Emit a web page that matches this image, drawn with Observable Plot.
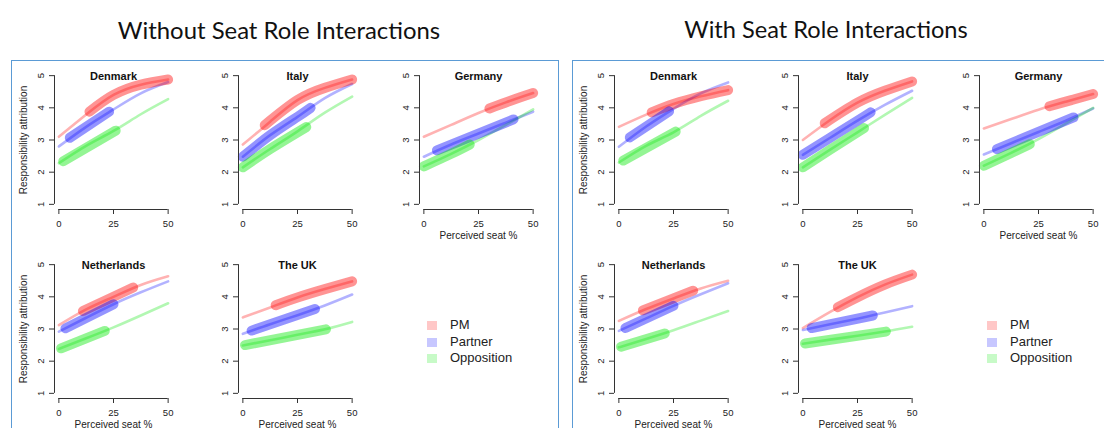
<!DOCTYPE html>
<html><head><meta charset="utf-8">
<script src="https://cdn.jsdelivr.net/npm/d3@7"></script>
<script src="https://cdn.jsdelivr.net/npm/@observablehq/plot@0.6"></script>
<style>
html,body{margin:0;padding:0;width:1104px;height:428px;overflow:hidden;background:#fff;}
#root{position:relative;width:1104px;height:428px;overflow:hidden;}
.box{position:absolute;border:1.5px solid #5b9bd5;box-sizing:border-box;}
.title{position:absolute;font-family:Lato,"Open Sans",sans-serif;color:#111;white-space:nowrap;transform:translate(-50%,-50%);}
.panel{position:absolute;}
.legend{position:absolute;font-family:"Liberation Sans",Arial,sans-serif;font-size:13px;color:#222;}
.legend .row{position:absolute;white-space:nowrap;height:16px;line-height:16px;}
.legend .sw{position:absolute;left:0;top:4px;width:10px;height:9px;}
.legend .lb{position:absolute;left:23px;top:0;}
</style></head><body><div id="root"></div><script>
const models = ["Without Seat Role Interactions", "With Seat Role Interactions"];
const countries = ["Denmark", "Italy", "Germany", "Netherlands", "The UK"];
const roles = ["PM", "Partner", "Opposition"];
const roleColors = ["#ff0000", "#0000ff", "#00e600"];
const seatTicks = [0, 25, 50];
const attrTicks = [1, 2, 3, 4, 5];
const curveSeats = [0, 12.5, 25, 37.5, 50];

// thin curves: attribution at curveSeats, one row per country
const withoutPM = [[3.10,3.79,4.40,4.72,4.88],[2.86,3.57,4.24,4.62,4.88],[3.10,3.47,3.84,4.17,4.46],[3.12,3.61,4.00,4.37,4.64],[3.36,3.67,3.98,4.24,4.48]];
const withoutPartner = [[2.80,3.41,3.95,4.45,4.80],[2.48,3.15,3.72,4.30,4.74],[2.48,2.86,3.20,3.54,3.88],[2.92,3.35,3.77,4.14,4.48],[2.85,3.15,3.43,3.73,4.07]];
const withoutOpposition = [[2.28,2.82,3.28,3.80,4.27],[2.15,2.72,3.27,3.85,4.35],[2.18,2.57,3.00,3.47,3.95],[2.38,2.71,3.05,3.42,3.80],[2.49,2.65,2.82,2.99,3.22]];
const withPM = [[3.41,3.79,4.12,4.36,4.55],[3.00,3.62,4.16,4.53,4.82],[3.36,3.65,3.94,4.19,4.43],[3.25,3.62,3.95,4.26,4.50],[3.03,3.53,3.99,4.38,4.69]];
const withPartner = [[2.79,3.42,3.97,4.45,4.79],[2.54,3.07,3.60,4.09,4.53],[2.55,2.90,3.25,3.60,3.98],[2.94,3.33,3.72,4.08,4.42],[2.97,3.15,3.32,3.51,3.71]];
const withOpposition = [[2.30,2.82,3.24,3.75,4.22],[2.15,2.70,3.24,3.78,4.31],[2.20,2.60,3.03,3.51,4.00],[2.43,2.69,2.96,3.26,3.56],[2.54,2.67,2.79,2.92,3.07]];

// thick segments (observed seat range): [seat, attribution] points per country
const withoutPMRange = [[[14,3.88],[25,4.40],[37.5,4.72],[50,4.88]],[[10,3.46],[25,4.24],[37.5,4.62],[50,4.88]],[[30,3.98],[40,4.23],[50,4.46]],[[11,3.56],[25,4.00],[34,4.29]],[[15,3.74],[25,3.98],[37.5,4.24],[50,4.48]]];
const withoutPartnerRange = [[[5,3.07],[23,3.88]],[[0,2.48],[12.5,3.15],[25,3.72],[31,4.00]],[[6,2.68],[41,3.64]],[[3,3.02],[25,3.77]],[[4,2.95],[33,3.62]]];
const withoutOppositionRange = [[[2,2.34],[26,3.29]],[[0,2.15],[12.5,2.72],[29,3.40]],[[0,2.18],[12.5,2.57],[21,2.86]],[[1,2.40],[21,2.94]],[[1,2.50],[38,2.99]]];
const withPMRange = [[[15,3.86],[25,4.12],[37.5,4.36],[50,4.55]],[[10,3.52],[25,4.16],[37.5,4.53],[50,4.82]],[[30,4.05],[40,4.24],[50,4.43]],[[11,3.58],[25,3.95],[34,4.19]],[[16,3.68],[25,3.99],[37.5,4.38],[50,4.69]]];
const withPartnerRange = [[[5,3.08],[23,3.89]],[[0,2.54],[12.5,3.07],[25,3.60],[31,3.86]],[[6,2.72],[41,3.70]],[[3,3.03],[25,3.72]],[[4,3.03],[32,3.42]]];
const withOppositionRange = [[[2,2.36],[26,3.26]],[[0,2.15],[12.5,2.70],[28,3.37]],[[0,2.20],[12.5,2.60],[21,2.87]],[[1,2.45],[21,2.86]],[[1,2.55],[38,2.92]]];

const thinSets = [[withoutPM, withoutPartner, withoutOpposition], [withPM, withPartner, withOpposition]];
const thickSets = [[withoutPMRange, withoutPartnerRange, withoutOppositionRange], [withPMRange, withPartnerRange, withOppositionRange]];

// layout
const boxLeft = [11, 572];
const boxShift = [0, 560];
const colAxisX = [54, 237.5, 419];
const rowTop = [48, 237];
const grid = [[0,0],[0,1],[0,2],[1,0],[1,1]]; // [row, col] per country
const M = {left:44, right:28, top:22, bottom:40, w:118, h:139};
const xDomain = [-2, 52], yDomain = [0.84, 5.16];

const root = document.getElementById("root");

models.forEach((name, mi) => {
  const box = document.createElement("div");
  box.className = "box";
  Object.assign(box.style, {left: boxLeft[mi] + "px", top: "60px", width: (mi === 0 ? 548 : 600) + "px", height: "420px"});
  root.appendChild(box);
  const t = document.createElement("div");
  t.className = "title";
  t.textContent = name;
  Object.assign(t.style, {left: (mi === 0 ? 279 : 826) + "px", top: "29px", fontSize: (mi === 0 ? 23.9 : 23.6) + "px"});
  root.appendChild(t);

  countries.forEach((country, ci) => {
    const [r, c] = grid[ci];
    const thin = roles.flatMap((role, ri) => curveSeats.map((s, i) => ({role, seat: s, attr: thinSets[mi][ri][ci][i]})));
    const thick = roles.flatMap((role, ri) => thickSets[mi][ri][ci].map(([s, a]) => ({role, seat: s, attr: a})));
    const showY = c === 0;
    const showX = r === 1 || c === 2;
    const marks = [
      Plot.line(thin, {x: "seat", y: "attr", z: "role", stroke: "role", strokeWidth: 2.6, strokeOpacity: 0.3, curve: "natural", strokeLinecap: "round"}),
      Plot.line(thick, {x: "seat", y: "attr", z: "role", stroke: "role", strokeWidth: 10, strokeOpacity: 0.42, curve: "natural", strokeLinecap: "round"}),
      Plot.ruleX([xDomain[0]], {y1: attrTicks[0], y2: attrTicks[attrTicks.length - 1], stroke: "#333"}),
      Plot.ruleY([yDomain[0]], {x1: seatTicks[0], x2: seatTicks[seatTicks.length - 1], stroke: "#333"}),
      Plot.axisY(attrTicks, {anchor: "left", tickRotate: -90, tickSize: 5, tickPadding: 6, label: null, stroke: "#333", fill: "#222"}),
      Plot.axisX(seatTicks, {anchor: "bottom", tickSize: 5, tickPadding: 6, label: null, stroke: "#333", fill: "#222"}),
      Plot.text([country], {text: d => d, frameAnchor: "top", dy: 2, fontWeight: "bold", fontSize: 11, fill: "#111"})
    ];
    if (showY) marks.push(Plot.text(["Responsibility attribution"], {text: d => d, frameAnchor: "left", textAnchor: "middle", dx: -31, rotate: -90, fontSize: 10, fill: "#222"}));
    if (showX) marks.push(Plot.text(["Perceived seat %"], {text: d => d, frameAnchor: "bottom", dy: 29, fontSize: 10, fill: "#222"}));
    const svg = Plot.plot({
      width: M.left + M.w + M.right, height: M.top + M.h + M.bottom,
      marginLeft: M.left, marginRight: M.right, marginTop: M.top, marginBottom: M.bottom,
      x: {domain: xDomain}, y: {domain: yDomain},
      color: {domain: roles, range: roleColors},
      style: {background: "transparent", overflow: "visible", fontFamily: "'Liberation Sans', Arial, sans-serif", fontSize: "9.5px", color: "#222", maxWidth: "none"},
      marks
    });
    const wrap = document.createElement("div");
    wrap.className = "panel";
    Object.assign(wrap.style, {left: (boxShift[mi] + colAxisX[c] - M.left) + "px", top: rowTop[r] + "px"});
    wrap.appendChild(svg);
    root.appendChild(wrap);
  });

  const lg = document.createElement("div");
  lg.className = "legend";
  Object.assign(lg.style, {left: (boxShift[mi] + 427) + "px", top: "317px"});
  roles.forEach((role, ri) => {
    const row = document.createElement("div");
    row.className = "row";
    row.style.top = (ri * 16.5) + "px";
    const sw = document.createElement("div");
    sw.className = "sw";
    sw.style.background = roleColors[ri];
    sw.style.opacity = 0.22;
    const lb = document.createElement("div");
    lb.className = "lb";
    lb.textContent = role;
    row.appendChild(sw); row.appendChild(lb);
    lg.appendChild(row);
  });
  root.appendChild(lg);
});
</script></body></html>
